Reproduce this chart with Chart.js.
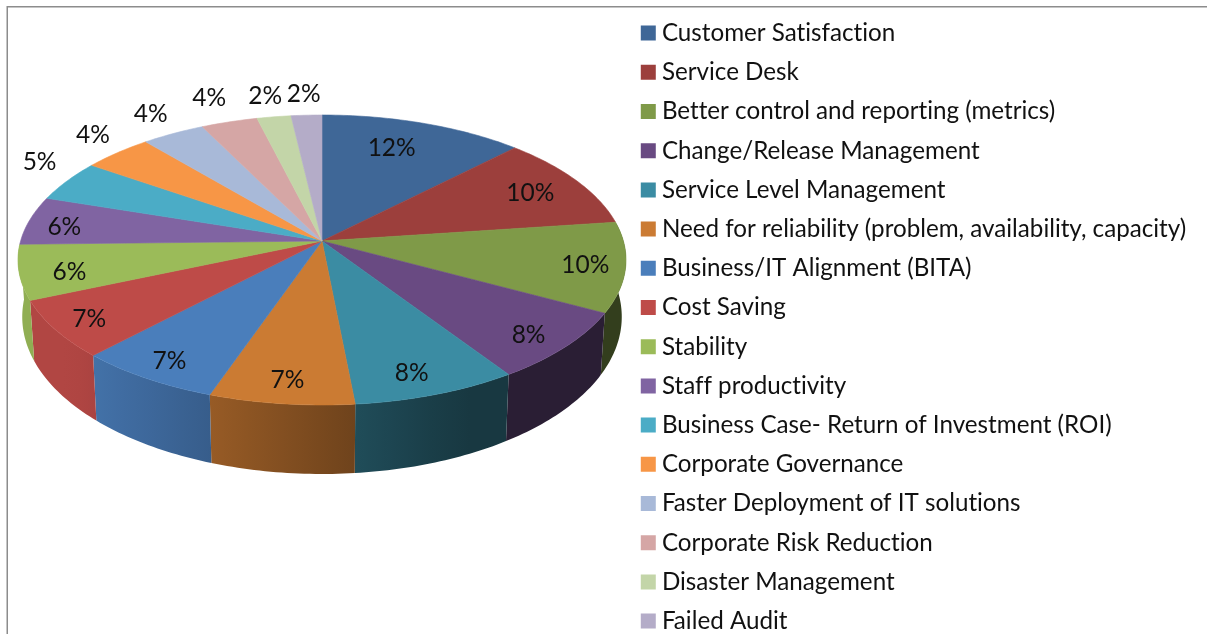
<!DOCTYPE html>
<html><head><meta charset="utf-8">
<style>html,body{margin:0;padding:0;background:#fff;overflow:hidden}canvas{display:block}</style>
<script src="https://cdn.jsdelivr.net/npm/chart.js@4/dist/chart.umd.min.js"></script>
</head><body><div style="width:1207px;height:634px;overflow:hidden"><canvas id="c" width="1207" height="700"></canvas></div>
<script>
const categories = ["Customer Satisfaction","Service Desk","Better control and reporting (metrics)","Change/Release Management","Service Level Management","Need for reliability (problem, availability, capacity)","Business/IT Alignment (BITA)","Cost Saving","Stability","Staff productivity","Business Case- Return of Investment (ROI)","Corporate Governance","Faster Deployment of IT solutions","Corporate Risk Reduction","Disaster Management","Failed Audit"];
const values = [12.3,10.5,10.0,7.8,7.75,6.8,6.75,6.45,6.1,5.4,4.6,4.2,3.8,3.4,2.05,1.85];
const percentLabels = ["12%","10%","10%","8%","8%","7%","7%","7%","6%","6%","5%","4%","4%","4%","2%","2%"];
const colors = ["#3F6797","#9C3F3C","#7F9A48","#694A82","#3B8CA3","#CB7B33","#4A7EBB","#BE4B48","#9BBB59","#8064A2","#4BACC6","#F79646","#A8B9D8","#D5A6A5","#C3D5A8","#B4ACC8"];
const labelRadius = [0.77,0.81,0.87,0.87,0.86,0.865,0.88,0.88,0.84,0.875,1.18,1.19,1.21,1.25,1.21,1.21];
const labelTurn = [-3,0,0,1,1.5,0,0,0,-1.5,-1,4.5,2.5,1,0,0,0];

const CX=322, CY=241, B=301.4, A=142.5, K=0.131;
const project=(u,v)=>{const w=1-K*v;return [CX+B*u/w, CY+A*v/w];};
const lower=(u,v)=>{const p=project(u,v);return [CX+(p[0]-CX)*0.986, p[1]+55+14*v];};
const shade=(hex,f)=>{const n=parseInt(hex.slice(1),16);const c=s=>Math.round(((n>>s)&255)*f);return `rgb(${c(16)},${c(8)},${c(0)})`;};
const light=x=>Math.max(0.4,Math.min(0.93,1-(x-20)/480*0.65));

const perspectivePie={
  id:'perspectivePie',
  beforeUpdate(chart){chart.ctx.textRendering='optimizeSpeed';},
  beforeDatasetsDraw(chart){
    const ctx=chart.ctx, arcs=chart.getDatasetMeta(0).data;
    ctx.save();
    // sides: only the slices that reach the front half of the rim
    arcs.forEach((el,i)=>{
      const s=el.startAngle,e=el.endAngle,n=Math.max(2,Math.ceil((e-s)*60));
      const top=[],bot=[];
      for(let j=0;j<=n;j++){
        const a=s+(e-s)*j/n;
        if(Math.sin(a)<-0.2) continue;
        top.push(project(Math.cos(a),Math.sin(a)));bot.push(lower(Math.cos(a),Math.sin(a)));
      }
      if(top.length<2||Math.max(Math.sin(s),Math.sin(e),Math.sin(s+(e-s)/2))<0.1) return;
      const xs=top.map(p=>p[0]).concat(bot.map(p=>p[0]));
      const x0=Math.min(...xs),x1=Math.max(...xs);
      const g=ctx.createLinearGradient(x0,0,x1+0.01,0);
      for(let t=0;t<=4;t++){g.addColorStop(t/4,shade(colors[i],light(x0+(x1-x0)*t/4)));}
      ctx.beginPath();
      top.forEach((p,j)=>j?ctx.lineTo(p[0],p[1]):ctx.moveTo(p[0],p[1]));
      bot.reverse().forEach(p=>ctx.lineTo(p[0],p[1]));
      ctx.closePath();ctx.fillStyle=g;ctx.fill();
    });
    // top face
    arcs.forEach((el,i)=>{
      const s=el.startAngle,e=el.endAngle,n=Math.max(2,Math.ceil((e-s)*60));
      ctx.beginPath();ctx.moveTo(CX,CY);
      for(let j=0;j<=n;j++){const a=s+(e-s)*j/n;const p=project(Math.cos(a),Math.sin(a));ctx.lineTo(p[0],p[1]);}
      ctx.closePath();ctx.fillStyle=colors[i];ctx.strokeStyle=colors[i];ctx.lineWidth=0.6;ctx.fill();ctx.stroke();
    });
    // percent labels
    ctx.fillStyle='#111';ctx.font='24.5px Lato';ctx.textAlign='center';ctx.textBaseline='middle';
    arcs.forEach((el,i)=>{
      const a=(el.startAngle+el.endAngle)/2+labelTurn[i]*Math.PI/180,r=labelRadius[i];
      const p=project(r*Math.cos(a),r*Math.sin(a));
      ctx.fillText(percentLabels[i],p[0],p[1]+1.5);
    });
    ctx.restore();
    return false;
  },
  afterDraw(chart){
    const ctx=chart.ctx;ctx.save();ctx.strokeStyle='#8c8c8c';ctx.lineWidth=1.5;
    ctx.beginPath();ctx.moveTo(7.25,634);ctx.lineTo(7.25,6.75);ctx.lineTo(1207,6.75);ctx.stroke();ctx.restore();
  }
};

new Chart(document.getElementById('c'),{
  type:'pie',
  data:{labels:categories,datasets:[{data:values,backgroundColor:colors,borderWidth:0}]},
  options:{
    responsive:false,animation:false,events:[],
    layout:{padding:{top:6,right:10.8,left:0,bottom:0}},
    plugins:{
      tooltip:{enabled:false},
      legend:{position:'right',align:'start',
        labels:{font:{family:'Lato',size:24.2},color:'#111',boxWidth:3,boxHeight:15,usePointStyle:true,pointStyle:'rect',padding:15}}
    }
  },
  plugins:[perspectivePie]
});
</script></body></html>
